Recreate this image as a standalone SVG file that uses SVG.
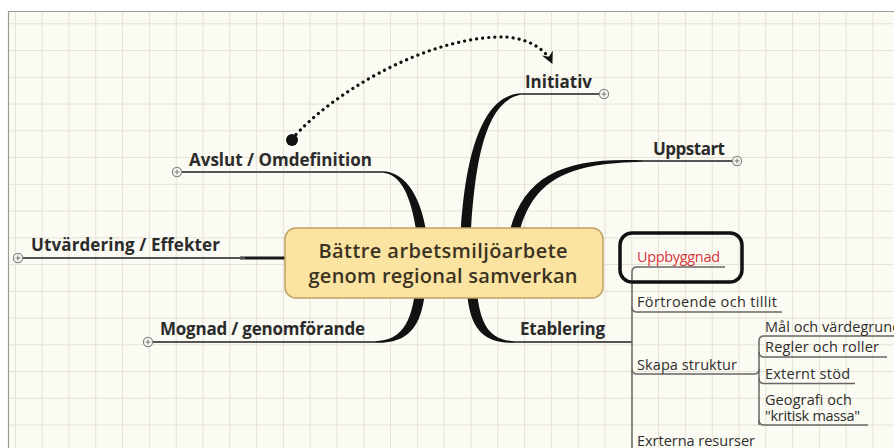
<svg xmlns="http://www.w3.org/2000/svg" width="894" height="448" viewBox="0 0 894 448">
<defs>
<pattern id="grid" patternUnits="userSpaceOnUse" x="14.9" y="23.3" width="26.8" height="26.75">
<path d="M0,0.5 H26.8 M0.5,0 V26.75" fill="none" stroke="#e4e2d5" stroke-width="1"/>
</pattern>
<marker id="arrow" markerUnits="userSpaceOnUse" markerWidth="14" markerHeight="14" refX="11" refY="6" orient="auto">
<path d="M0,0 L12,6 L0,12 L4,6 Z" fill="#111"/>
</marker>
<style>
.lbl{font-family:"Open Sans","Liberation Sans",sans-serif;font-weight:700;font-size:17px;fill:#2b2b2b}
.sub{font-family:"Open Sans","Liberation Sans",sans-serif;font-size:14.5px;fill:#2e2e2e}
.ctr{font-family:"Open Sans","Liberation Sans",sans-serif;font-weight:600;font-size:20px;fill:#3b3322;text-anchor:middle}
.ul{fill:none;stroke:#555;stroke-width:2}
.sl{fill:none;stroke:#666;stroke-width:1.5}
.taper{fill:#111}
.plus circle{fill:#fafaf4;stroke:#888;stroke-width:1.2}
.plus path{stroke:#777;stroke-width:1}
</style>
</defs>
<rect width="894" height="448" fill="#ffffff"/>
<rect x="8" y="11" width="886" height="437" fill="#fcfbf3"/>
<rect x="8" y="11" width="886" height="437" fill="url(#grid)"/>
<path d="M8.5,448 V11.5 H894" fill="none" stroke="#9a9a96" stroke-width="1.2"/>

<g id="connectors">
<path class="taper" d="M461,236 L461,228 C465,170 477,97 520,93.3 L520,94.7 C483,103 475,170 471,228 L471,236 Z"/>
<path class="taper" d="M509,236 L510,230 C525,173 568,157 643,160.3 L643,161.7 C572,163 535,177 520,230 L519,236 Z"/>
<path class="taper" d="M383,171.2 C401,172 420,188 427,236 L417,236 C411,192 399,174 383,172.8 Z"/>
<path class="taper" d="M425,292 C421,328 408,343.5 375,342.8 L375,341.2 C402,340.5 411,322 415,292 Z"/>
<path class="taper" d="M467,292 C470,328 482,343.5 515,342.8 L515,341.2 C488,340.5 480,322 477,292 Z"/>
<path d="M240,258 H287" stroke="#1a1a1a" stroke-width="3" fill="none"/>
<path d="M515,342 H632" class="ul"/>
<path d="M632,448 V272 Q632,267 637,267" class="sl"/>
<path d="M759,425 V341 Q759,336 764,336" class="sl"/>
<path d="M737,374 H754 Q759,374 759,369" class="sl"/>
<path d="M292,139 C330,95 420,40 497,37 C525,36 545,48 552,63" fill="none" stroke="#111" stroke-width="3.2" stroke-linecap="round" stroke-dasharray="0.1 6" marker-end="url(#arrow)"/>
<circle cx="292" cy="140" r="6" fill="#111"/>
</g>

<g id="center">
<rect x="285" y="228" width="318" height="70" rx="11" fill="#fbe3a1" stroke="#bea463" stroke-width="1.5"/>
<text class="ctr" x="443" y="258" textLength="249">Bättre arbetsmiljöarbete</text>
<text class="ctr" x="443" y="282.5" textLength="269">genom regional samverkan</text>
</g>

<g id="initiativ">
<path d="M520,94 H599.5" class="ul"/>
<text class="lbl" x="525" y="87.5" textLength="67">Initiativ</text>
<g class="plus"><circle cx="604" cy="94" r="4.6"/><path d="M601.5,94 H606.5 M604,91.5 V96.5"/></g>
</g>

<g id="uppstart">
<path d="M643,161 H732.5" class="ul"/>
<text class="lbl" x="653" y="154.5" textLength="72">Uppstart</text>
<g class="plus"><circle cx="737" cy="161" r="4.6"/><path d="M734.5,161 H739.5 M737,158.5 V163.5"/></g>
</g>

<g id="avslut">
<path d="M181.5,172 H383" class="ul"/>
<text class="lbl" x="189" y="165.5" textLength="183">Avslut / Omdefinition</text>
<g class="plus"><circle cx="177" cy="172" r="4.6"/><path d="M174.5,172 H179.5 M177,169.5 V174.5"/></g>
</g>

<g id="utvardering">
<path d="M22.5,258 H245" class="ul"/>
<text class="lbl" x="31" y="250.5" textLength="189">Utvärdering / Effekter</text>
<g class="plus"><circle cx="18" cy="258" r="4.6"/><path d="M15.5,258 H20.5 M18,255.5 V260.5"/></g>
</g>

<g id="mognad">
<path d="M152.5,342 H375" class="ul"/>
<text class="lbl" x="160" y="335.3" textLength="205">Mognad / genomförande</text>
<g class="plus"><circle cx="148" cy="342" r="4.6"/><path d="M145.5,342 H150.5 M148,339.5 V344.5"/></g>
</g>

<g id="etablering">
<text class="lbl" x="520" y="335" textLength="85">Etablering</text>
</g>

<g id="uppbyggnad">
<path d="M637,267 H725" class="sl"/>
<text class="sub" x="637" y="262.2" textLength="83" style="fill:#d8343c">Uppbyggnad</text>
<rect x="620" y="233" width="122" height="49" rx="12" fill="none" stroke="#111" stroke-width="3.5"/>
</g>

<g id="fortroende">
<path d="M632,307 Q632,312 637,312 H782" class="sl"/>
<text class="sub" x="637" y="307.2" textLength="140">Förtroende och tillit</text>
</g>

<g id="skapa">
<path d="M632,369 Q632,374 637,374 H737" class="sl"/>
<text class="sub" x="637" y="369.5" textLength="100">Skapa struktur</text>
</g>

<g id="mal">
<path d="M764,336 H894" class="sl"/>
<text class="sub" x="765" y="331.5" textLength="136">Mål och värdegrund</text>
</g>

<g id="regler">
<path d="M759,352 Q759,357 764,357 H887" class="sl"/>
<text class="sub" x="765" y="352.3" textLength="114">Regler och roller</text>
</g>

<g id="externt">
<path d="M759,378.5 Q759,383.5 764,383.5 H855" class="sl"/>
<text class="sub" x="765" y="378.8" textLength="85">Externt stöd</text>
</g>

<g id="geografi">
<path d="M759,420 Q759,425 764,425 H868" class="sl"/>
<text class="sub" x="765" y="404.5" textLength="87">Geografi och</text>
<text class="sub" x="765" y="420.5" textLength="95">"kritisk massa"</text>
</g>

<g id="externa">
<text class="sub" x="637" y="445.5" textLength="118">Exrterna resurser</text>
</g>
</svg>
